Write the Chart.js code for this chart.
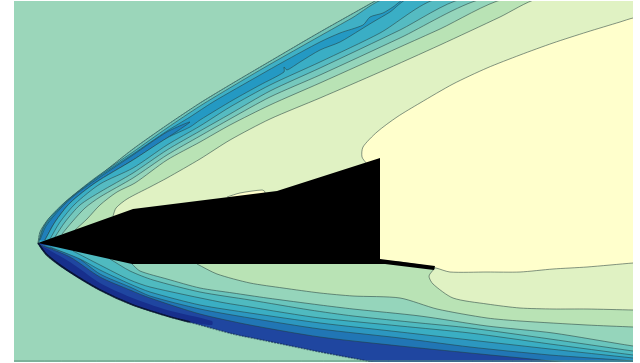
<!DOCTYPE html>
<html>
<head>
<meta charset="utf-8">
<style>
  html, body { margin: 0; padding: 0; background: #fff; }
  canvas { display: block; filter: blur(0.35px); }
</style>
<script src="https://cdn.jsdelivr.net/npm/chart.js@4/dist/chart.umd.js"></script>
</head>
<body>
<canvas id="contourChart" width="640" height="363"></canvas>
<script>
// contour curves, [x, y] in picture units
const frameCorners = [[0, -20], [700, -20], [700, 400], [0, 400]];
const upperClosure = [[700, -30], [700, 255]];
const lowerClosure = [[700, 400], [700, 240]];

const upperShock = [[38, 243], [40, 232], [46, 222], [53, 214], [70, 198], [100, 175], [133, 149], [167, 125], [200, 103], [233, 83], [267, 63], [320, 32], [375, 1], [385, -5]];
const upperFringe = [[39, 242], [42, 230], [50, 217], [65, 202], [95, 178], [133, 152], [167, 128], [200, 106], [233, 86], [267, 66], [320, 36], [352, 18], [385, -1]];
const upperBandTop = [[39, 241], [44, 227], [55, 213], [68, 200], [95, 179], [133, 154], [167, 131], [190, 117], [213, 102], [260, 75], [283, 62], [320, 42], [340, 33], [363, 25], [370, 17], [383, 13], [393, 7], [405, -1]];
const upperTip = [[40, 240], [46, 226], [60, 209], [75, 195], [100, 177], [133, 155], [167, 132], [190, 122], [167, 138], [133, 160], [95, 183], [70, 203], [55, 222], [45, 240]];
const upperBandLow = [[45, 240], [55, 222], [70, 203], [95, 183], [133, 160], [167, 138], [190, 127], [200, 120], [233, 100], [260, 85], [284, 72], [284, 67], [287, 70], [300, 62], [320, 50], [340, 42], [360, 30], [373, 22], [390, 12], [408, -1]];
const upperLine62 = [[50, 239], [60, 222], [75, 204], [100, 184], [133, 168], [167, 145], [200, 126], [230, 107], [270, 85], [320, 62], [380, 33], [437, -1]];
const upperLine68 = [[55, 237], [65, 222], [80, 205], [100, 192], [133, 173], [167, 150], [200, 131], [230, 114], [270, 91], [320, 68], [400, 30], [462, -1]];
const upperLine75 = [[62, 234], [72, 222], [85, 208], [100, 197], [133, 178], [167, 155], [200, 136], [230, 119], [270, 97], [320, 75], [400, 38], [482, -1]];
const upperLine83 = [[75, 230], [87, 219], [100, 205], [117, 192], [135, 183], [167, 160], [200, 142], [230, 125], [270, 105], [320, 83], [400, 47], [440, 29], [504, -1]];
const paleUpper = [[113, 216], [116, 208], [127, 199], [150, 187], [167, 178], [200, 159], [230, 140], [270, 119], [320, 98], [380, 72], [440, 45], [500, 17], [537, -1]];

const lowerShock = [[38, 243], [47, 255], [67, 270], [100, 290], [133, 305], [167, 316], [200, 325], [233, 334], [267, 341], [320, 352], [367, 361], [385, 366]];
const lowerShockNear = [[38, 243], [47, 255], [67, 270], [100, 290], [133, 305], [167, 316], [190, 322]];
const lowerDeep = [[38, 243], [42, 250], [60, 266], [80, 279], [100, 290], [133, 305], [167, 316], [190, 322], [212, 325], [212, 321], [167, 310], [130, 297], [100, 283], [70, 262], [42, 246]];
const lowerLineH = [[41, 245], [70, 257], [100, 277], [130, 290], [150, 298], [200, 314], [250, 325], [320, 337], [400, 346], [470, 353], [550, 361], [585, 366]];
const lowerLineG = [[44, 246], [75, 256], [100, 274], [130, 287], [150, 296], [200, 309], [250, 318], [320, 329], [400, 338], [470, 347], [550, 355], [633, 361], [660, 364]];
const lowerLineF = [[50, 247], [80, 259], [100, 270], [130, 284], [150, 292], [200, 305], [250, 313], [320, 323], [400, 332], [470, 340], [550, 349], [633, 358], [660, 361]];
const lowerLineE = [[73, 251], [100, 265], [130, 280], [150, 287], [220, 302], [250, 307], [280, 312], [320, 318], [400, 326], [470, 333], [550, 344], [633, 355], [660, 358]];
const lowerLineD = [[110, 259], [130, 271], [153, 280], [200, 292], [250, 300], [310, 310], [353, 316], [420, 323], [470, 328], [550, 339], [633, 351], [660, 354]];
const lowerLineC = [[132, 264], [140, 271], [167, 279], [200, 288], [233, 293], [267, 298], [320, 305], [353, 309], [420, 316], [487, 326], [553, 333], [633, 346], [660, 349]];
const lowerLineB = [[197, 264], [217, 274], [250, 283], [283, 288], [320, 293], [353, 296], [400, 298], [437, 309], [487, 318], [520, 321], [587, 325], [633, 327], [660, 328]];
const paleLower = [[435, 268], [429, 276], [433, 284], [453, 298], [487, 304], [520, 308], [553, 309], [587, 309], [633, 310], [700, 311], [700, 255], [435, 255]];

const creamEdge = [[367, 164], [362, 157], [363, 147], [377, 132], [397, 117], [420, 103], [453, 84], [487, 68], [520, 55], [553, 43], [587, 32], [620, 22], [633, 18], [700, 5]];
const creamLower = [[700, 258], [633, 263], [587, 267], [553, 269], [520, 272], [487, 272], [450, 272], [436, 268], [420, 265], [400, 262], [378, 258], [375, 200], [375, 166]];
const bumpPatch = [[227, 197], [240, 193], [262, 190], [265, 192], [262, 200], [230, 200]];

const bodyOutline = [[38, 243], [133, 209], [277, 191], [380, 158], [380, 259], [435, 266], [434, 270], [385, 264], [132, 264]];
const bottomEdge = [[14, 361], [633, 361]];

const LINE_COLOR = 'rgba(35, 60, 60, 0.6)';

function toPoints(list) {
    return list.map(function (p) { return { x: p[0], y: p[1] }; });
}

function layer(points, color, opts) {
    const o = opts || {};
    return {
        data: toPoints(points),
        showLine: true,
        fill: 'shape',
        backgroundColor: color,
        borderColor: o.line === false ? color : LINE_COLOR,
        borderWidth: o.line === false ? 0 : 0.9,
        tension: o.tension === undefined ? 0.25 : o.tension,
        pointRadius: 0
    };
}

function stroke(points, color, width, dash) {
    return {
        data: toPoints(points),
        showLine: true,
        fill: false,
        borderColor: color,
        borderWidth: width,
        borderDash: dash || [],
        tension: 0.25,
        pointRadius: 0
    };
}

// painted in this order, outermost first
const layers = [
    layer(frameCorners, '#9bd6ba', { line: false, tension: 0 }),
    layer(upperShock.concat(upperClosure), '#70c4b8'),
    layer(upperFringe.concat(upperClosure), '#3fb0c5'),
    layer(upperBandTop.concat(upperClosure), '#2499c3'),
    layer(upperTip, '#2080bb'),
    layer(upperBandLow.concat(upperClosure), '#3aaec5'),
    layer(upperLine62.concat(upperClosure), '#55bbc2'),
    layer(upperLine68.concat(upperClosure), '#75c8bd'),
    layer(upperLine75.concat(upperClosure), '#95d5bb'),
    layer(upperLine83.concat(upperClosure), '#b9e3b5'),
    layer(lowerShock.concat(lowerClosure), '#1f46a0', { line: false }),
    layer(lowerDeep, '#172f8c', { line: false }),
    layer(lowerLineH.concat(lowerClosure), '#2176b5'),
    layer(lowerLineG.concat(lowerClosure), '#2c97c0'),
    layer(lowerLineF.concat(lowerClosure), '#3aaec3'),
    layer(lowerLineE.concat(lowerClosure), '#4fbac0'),
    layer(lowerLineD.concat(lowerClosure), '#6ac5bd'),
    layer(lowerLineC.concat(lowerClosure), '#95d5bb'),
    layer(lowerLineB.concat(lowerClosure), '#b9e3b5'),
    layer(paleUpper.concat(upperClosure), '#e0f2c3'),
    layer(paleLower, '#e0f2c3'),
    layer(creamEdge.concat(creamLower), '#ffffcc'),
    layer(bumpPatch, '#ffffcc'),
    stroke(lowerShock, 'rgba(10, 30, 60, 0.5)', 1.6, [2, 1]),
    stroke(lowerShockNear, 'rgba(5, 15, 40, 0.8)', 1.8),
    stroke(upperShock, 'rgba(40, 90, 100, 0.4)', 1, [2, 1]),
    layer(bodyOutline, '#000000', { line: false, tension: 0 }),
    stroke(bottomEdge, '#5f8f7c', 1)
];

layers.forEach(function (d, i) { d.order = -i; });

new Chart(document.getElementById('contourChart'), {
    type: 'scatter',
    data: { datasets: layers },
    options: {
        responsive: false,
        animation: false,
        layout: { padding: { left: 14, right: 7, top: 1, bottom: 1 } },
        plugins: { legend: { display: false }, tooltip: { enabled: false } },
        scales: {
            x: { type: 'linear', display: false, min: 14, max: 633 },
            y: { type: 'linear', display: false, reverse: true, min: 1, max: 362 }
        }
    }
});
</script>
</body>
</html>
